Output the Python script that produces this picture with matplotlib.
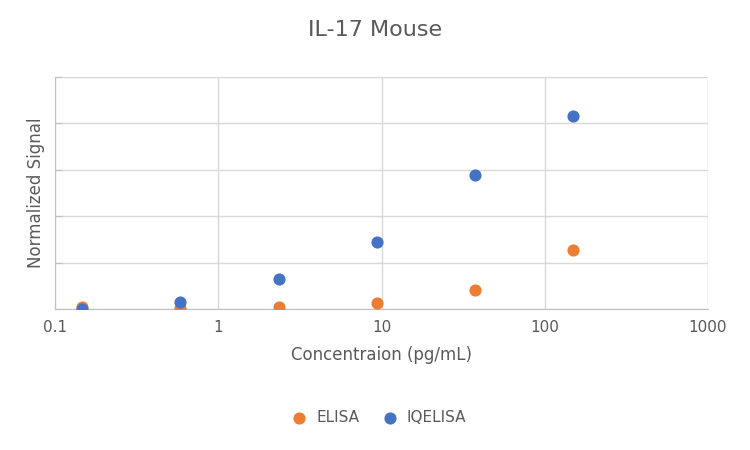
import matplotlib.pyplot as plt
import matplotlib.ticker as ticker

conc = [0.146, 0.586, 2.34, 9.375, 37.5, 150]
elisa = [0.04, 0.02, 0.04, 0.13, 0.41, 1.27]
iqelisa = [0.0, 0.15, 0.65, 1.44, 2.88, 4.15]

fig = plt.figure(figsize=(7.5, 4.5), dpi=100)
ax = fig.add_axes([55/750, 1-309/450, 653/750, 232/450])

ax.scatter(conc, elisa, s=60, color='#ED7D31', label='ELISA', zorder=3)
ax.scatter(conc, iqelisa, s=60, color='#4472C4', label='IQELISA', zorder=3)

ax.set_xscale('log')
ax.set_xlim(0.1, 1000)
ax.set_ylim(0, 5)
ax.xaxis.set_major_locator(ticker.FixedLocator([0.1, 1, 10, 100, 1000]))
ax.xaxis.set_major_formatter(ticker.FixedFormatter(['0.1', '1', '10', '100', '1000']))
ax.xaxis.set_minor_locator(ticker.NullLocator())
ax.set_yticks(range(6))
ax.set_yticklabels([])
ax.grid(True, color='#D9D9D9', linewidth=1)
for s in ['top', 'right']:
    ax.spines[s].set_visible(False)
ax.spines['left'].set_color('#BFBFBF')
ax.spines['bottom'].set_color('#BFBFBF')
ax.tick_params(axis='x', length=0, labelsize=11, colors='#595959', pad=8)
ax.tick_params(axis='y', length=5, color='#BFBFBF', direction='in')

ax.set_xlabel('Concentraion (pg/mL)', fontsize=12, color='#595959', labelpad=8)
ax.set_ylabel('Normalized Signal', fontsize=12, color='#595959')
fig.text(0.5, 0.92, 'IL-17 Mouse', ha='center', fontsize=16, color='#595959')
fig.legend(loc='center', bbox_to_anchor=(0.5, 418/450), ncol=2, frameon=False,
           fontsize=11, labelcolor='#595959', handletextpad=0.1, columnspacing=1)
fig.legends[0].set_bbox_to_anchor((0.5, 1-418/450))

fig.savefig('out.png')
